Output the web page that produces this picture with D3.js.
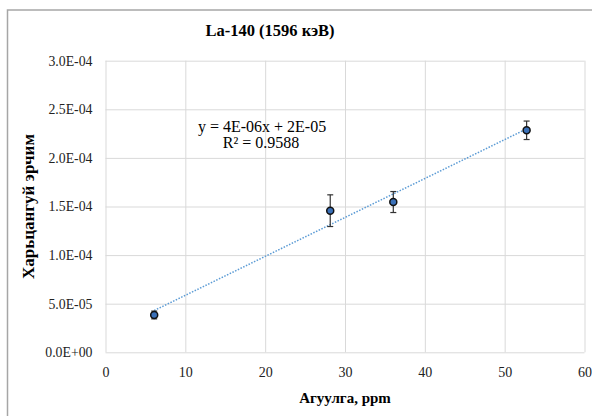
<!DOCTYPE html>
<html>
<head>
<meta charset="utf-8">
<script src="https://cdn.jsdelivr.net/npm/d3@7"></script>
<style>
  body { margin: 0; background: #fff; }
</style>
</head>
<body>
<svg width="592" height="416" font-family="'Liberation Serif', 'Times New Roman', serif"></svg>
<script>
// data
var concentration = [6.1, 28.15, 36.05, 52.75]          // Агуулга, ppm
var intensity = [3.84e-5, 1.457e-4, 1.546e-4, 2.284e-4] // Харьцангуй эрчим
var errors = [4e-6, 1.63e-5, 1.08e-5, 9.5e-6]
var xTicks = [0, 10, 20, 30, 40, 50, 60]
var yTicks = [0, 5e-5, 1e-4, 1.5e-4, 2e-4, 2.5e-4, 3e-4]
var equationText = 'y = 4E-06x + 2E-05'
var r2Text = 'R² = 0.9588'

var serif = 'Liberation Serif'
var svg = d3.select('svg'),
  margin = {top: 60.7, right: 7.5, bottom: 63.7, left: 105.5},
  width = +svg.attr('width'),
  height = +svg.attr('height')

var x = d3.scaleLinear().domain([0, 60]).range([margin.left, width - margin.right])
var y = d3.scaleLinear().domain([0, 3e-4]).range([height - margin.bottom, margin.top])

// excel style scientific label, e.g. 3.0E-04
function sci(v) {
  if (v === 0) return '0.0E+00'
  var s = v.toExponential(1).split('e')
  var e = +s[1]
  return s[0] + 'E' + (e < 0 ? '-' : '+') + (Math.abs(e) < 10 ? '0' : '') + Math.abs(e)
}

// chart frame (only top and left edges are inside the picture)
svg.append('path')
  .attr('d', 'M7.5,' + height + 'V10H' + width)
  .attr('fill', 'none')
  .attr('stroke', '#a6a6a6')
  .attr('stroke-width', 1.5)

// grid
svg.append('g')
  .attr('transform', 'translate(0,' + y(0) + ')')
  .call(d3.axisBottom(x).tickValues(xTicks).tickSize(-(y(0) - y(3e-4))).tickFormat(''))
  .call(function(g) { g.select('.domain').remove() })
  .selectAll('line').attr('stroke', '#d9d9d9')
svg.append('g')
  .attr('transform', 'translate(' + x(0) + ',0)')
  .call(d3.axisLeft(y).tickValues(yTicks).tickSize(-(x(60) - x(0))).tickFormat(''))
  .call(function(g) { g.select('.domain').remove() })
  .selectAll('line').attr('stroke', '#d9d9d9')

// tick labels
var xAxis = svg.append('g')
  .attr('transform', 'translate(0,' + y(0) + ')')
  .call(d3.axisBottom(x).tickValues(xTicks).tickSize(0).tickPadding(15))
  .attr('font-family', serif)
xAxis.select('.domain').remove()
xAxis.selectAll('text').attr('font-size', 14).attr('fill', '#222')

var yAxis = svg.append('g')
  .attr('transform', 'translate(' + x(0) + ',0)')
  .call(d3.axisLeft(y).tickValues(yTicks).tickSize(0).tickPadding(13).tickFormat(sci))
  .attr('font-family', serif)
yAxis.select('.domain').remove()
yAxis.selectAll('text').attr('font-size', 13.8).attr('fill', '#222')

// title and axis titles
svg.append('text')
  .attr('x', 270).attr('y', 36)
  .attr('text-anchor', 'middle')
  .attr('font-size', 16.5).attr('font-weight', 'bold')
  .text('La-140 (1596 кэВ)')

svg.append('text')
  .attr('x', (x(0) + x(60)) / 2).attr('y', 403)
  .attr('text-anchor', 'middle')
  .attr('font-size', 15).attr('font-weight', 'bold')
  .text('Агуулга, ppm')

svg.append('text')
  .attr('transform', 'translate(34,' + (y(0) + y(3e-4)) / 2 + ') rotate(-90)')
  .attr('text-anchor', 'middle')
  .attr('font-size', 17).attr('font-weight', 'bold')
  .text('Харьцангуй эрчим')

// linear trendline (least squares over the points)
var mx = d3.mean(concentration), my = d3.mean(intensity)
var sxy = d3.sum(concentration, function(d, i) { return (d - mx) * (intensity[i] - my) })
var sxx = d3.sum(concentration, function(d) { return (d - mx) * (d - mx) })
var slope = sxy / sxx, intercept = my - slope * mx
var ends = d3.extent(concentration)
svg.append('path')
  .datum(ends)
  .attr('d', d3.line()
    .x(function(d) { return x(d) })
    .y(function(d) { return y(intercept + slope * d) }))
  .attr('fill', 'none')
  .attr('stroke', '#5b9bd5')
  .attr('stroke-width', 1.5)
  .attr('stroke-dasharray', '1.5,1.5')

svg.append('text')
  .attr('x', 262).attr('y', 132)
  .attr('text-anchor', 'middle')
  .attr('font-size', 16)
  .text(equationText)
svg.append('text')
  .attr('x', 261).attr('y', 148)
  .attr('text-anchor', 'middle')
  .attr('font-size', 16)
  .text(r2Text)

// error bars
var bars = svg.append('g')
  .attr('stroke', '#333')
  .attr('stroke-width', 1.2)
  .selectAll('g')
  .data(concentration)
  .join('g')
bars.append('line')
  .attr('x1', function(d) { return x(d) }).attr('x2', function(d) { return x(d) })
  .attr('y1', function(d, i) { return y(intensity[i] - errors[i]) })
  .attr('y2', function(d, i) { return y(intensity[i] + errors[i]) })
bars.append('line')
  .attr('x1', function(d) { return x(d) - 3 }).attr('x2', function(d) { return x(d) + 3 })
  .attr('y1', function(d, i) { return y(intensity[i] + errors[i]) })
  .attr('y2', function(d, i) { return y(intensity[i] + errors[i]) })
bars.append('line')
  .attr('x1', function(d) { return x(d) - 3 }).attr('x2', function(d) { return x(d) + 3 })
  .attr('y1', function(d, i) { return y(intensity[i] - errors[i]) })
  .attr('y2', function(d, i) { return y(intensity[i] - errors[i]) })

// markers
svg.append('g')
  .selectAll('circle')
  .data(concentration)
  .join('circle')
  .attr('cx', function(d) { return x(d) })
  .attr('cy', function(d, i) { return y(intensity[i]) })
  .attr('r', 3.5)
  .attr('fill', '#3a70b8')
  .attr('stroke', '#111')
  .attr('stroke-width', 1.5)
</script>
</body>
</html>
